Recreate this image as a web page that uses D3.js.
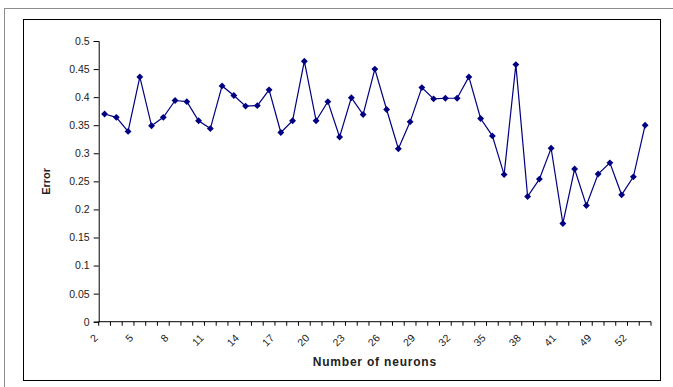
<!DOCTYPE html>
<html>
<head>
<meta charset="utf-8">
<script src="https://cdn.jsdelivr.net/npm/d3@7"></script>
<style>
html,body{margin:0;padding:0;background:#fff;}
svg{display:block;}
text{font-family:"Liberation Sans",Arial,sans-serif;}
</style>
</head>
<body>
<svg id="chart" width="673" height="387"></svg>
<script>
const categories = [2,3,4,5,6,7,8,9,10,11,12,13,14,15,16,17,18,19,20,21,22,23,24,25,26,27,28,29,30,31,32,33,34,35,36,37,38,39,40,41,43,46,49,50,51,52,53];
const errorValues = [0.370,0.364,0.339,0.436,0.349,0.364,0.394,0.392,0.358,0.344,
  0.420,0.403,0.384,0.385,0.413,0.337,0.358,0.464,0.358,0.392,
  0.329,0.399,0.369,0.450,0.378,0.308,0.356,0.417,0.397,0.398,
  0.398,0.436,0.362,0.331,0.262,0.458,0.223,0.254,0.309,0.175,
  0.272,0.207,0.263,0.283,0.226,0.258,0.350];
const xTickLabels = ["2","5","8","11","14","17","20","23","26","29","32","35","38","41","49","52"];
const yTicks = [0,0.05,0.1,0.15,0.2,0.25,0.3,0.35,0.4,0.45,0.5];
const yTickLabels = ["0","0.05","0.1","0.15","0.2","0.25","0.3","0.35","0.4","0.45","0.5"];

const svg = d3.select("#chart");
const pLeft = 98.7, pRight = 651, pTop = 41, pBottom = 321.7;

// outer frame and chart area border
svg.append("rect").attr("x",4.5).attr("y",8.5).attr("width",720).attr("height",420)
  .attr("fill","none").attr("stroke","#8c8c8c").attr("stroke-width",1);
svg.append("rect").attr("x",23.5).attr("y",19.5).attr("width",637).attr("height",361)
  .attr("fill","#fff").attr("stroke","#000").attr("stroke-width",1);

const x = d3.scaleBand().domain(categories.map(String)).range([pLeft,pRight]).padding(0);
const y = d3.scaleLinear().domain([0,0.5]).range([pBottom,pTop]);
const cx = c => x(String(c)) + x.bandwidth()/2;

// y axis
const yAxis = d3.axisLeft(y).tickValues(yTicks).tickSize(5).tickPadding(4)
  .tickFormat((d,i)=>yTickLabels[i]);
const gy = svg.append("g").attr("transform",`translate(${pLeft},0)`).call(yAxis);
gy.select(".domain").attr("stroke","#000");
gy.selectAll(".tick line").attr("stroke","#000");
gy.selectAll("text").attr("font-size",10.5).attr("fill","#222").style("font-family","'Liberation Sans',Arial,sans-serif");

// x axis line
svg.append("line").attr("x1",pLeft).attr("x2",pRight).attr("y1",pBottom).attr("y2",pBottom).attr("stroke","#000");
// boundary ticks
const bounds = categories.map(c=>x(String(c))).concat([pRight]);
svg.append("g").selectAll("line").data(bounds).join("line")
  .attr("x1",d=>d).attr("x2",d=>d).attr("y1",pBottom).attr("y2",pBottom+4).attr("stroke","#000");
// x labels
const labelCats = categories.filter(c=>xTickLabels.includes(String(c)));
svg.append("g").selectAll("text").data(labelCats).join("text")
  .attr("transform",d=>`translate(${cx(d)-6},${pBottom+17}) rotate(-45)`)
  .attr("text-anchor","end")
  .attr("font-size",10.5).attr("fill","#222").text(d=>String(d));

// line
const line = d3.line().x((d,i)=>cx(categories[i])).y(d=>y(d));
svg.append("path").datum(errorValues).attr("d",line)
  .attr("fill","none").attr("stroke","#000080").attr("stroke-width",1.2);
// markers
svg.append("g").selectAll("path").data(errorValues).join("path")
  .attr("d",d3.symbol().type(d3.symbolDiamond2).size(30))
  .attr("transform",(d,i)=>`translate(${cx(categories[i])},${y(d)})`)
  .attr("fill","#000080");

// titles
svg.append("text").attr("x",(pLeft+pRight)/2).attr("y",366)
  .attr("text-anchor","middle").attr("font-size",12).attr("font-weight","bold")
  .attr("letter-spacing","0.8px").attr("fill","#222").text("Number of neurons");
svg.append("text").attr("transform",`translate(50,${(pTop+pBottom)/2}) rotate(-90)`)
  .attr("text-anchor","middle").attr("font-size",11).attr("font-weight","bold")
  .attr("fill","#222").text("Error");
</script>
</body>
</html>
